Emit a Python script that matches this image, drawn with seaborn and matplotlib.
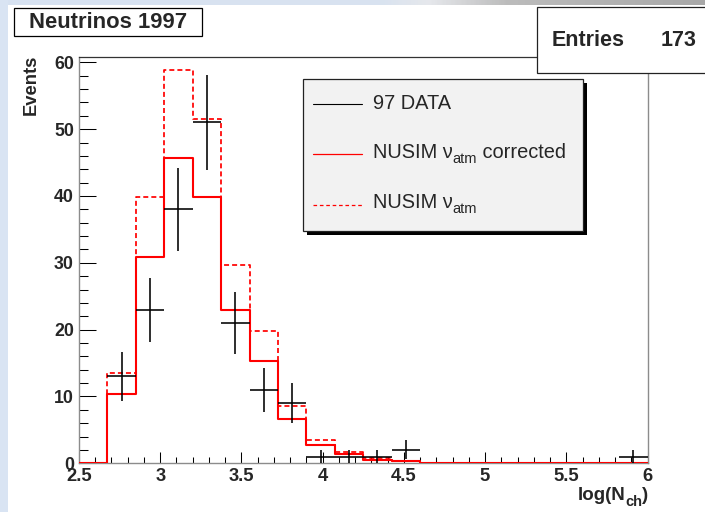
import numpy as np
import pandas as pd
import matplotlib
matplotlib.use("Agg")
import matplotlib.pyplot as plt
import matplotlib.transforms as mtransforms
from matplotlib.patches import Rectangle
from matplotlib.lines import Line2D
from matplotlib.ticker import MultipleLocator
from matplotlib.colors import LinearSegmentedColormap
import seaborn as sns

# ---- data ---------------------------------------------------------------
# 20 bins in log(Nch) between 2.5 and 6
bin_edges = np.linspace(2.5, 6.0, 21)

data_counts = [0, 13, 23, 38, 51, 21, 11, 9, 1, 1, 1, 2, 0, 0, 0, 0, 0, 0, 0, 1]
nusim_corrected = [0, 10.4, 30.9, 45.7, 39.9, 23.0, 15.3, 6.6, 2.75, 1.4,
                   0.55, 0.3, 0.1, 0, 0, 0, 0, 0, 0, 0]
nusim_raw = [0, 13.5, 39.8, 58.9, 51.5, 29.7, 19.8, 8.6, 3.5, 1.75,
             0.75, 0.4, 0.1, 0, 0, 0, 0, 0, 0, 0]

n_entries = 173
title_text = "Neutrinos 1997"
# legend rows: (text, subscript, trailing text)
legend_rows = [("97 DATA", "", ""),
               ("NUSIM ν", "atm", " corrected"),
               ("NUSIM ν", "atm", "")]
xlabel_parts = ("log(N", "ch", ")")
ylabel_text = "Events"
xtick_values = [2.5, 3, 3.5, 4, 4.5, 5, 5.5, 6]
xtick_labels = ["2.5", "3", "3.5", "4", "4.5", "5", "5.5", "6"]
ytick_values = [0, 10, 20, 30, 40, 50, 60]
ytick_labels = ["0", "10", "20", "30", "40", "50", "60"]

centers = 0.5 * (bin_edges[:-1] + bin_edges[1:])
half_width = 0.5 * (bin_edges[1] - bin_edges[0])
df = pd.DataFrame({"lognch": centers, "data": data_counts,
                   "corrected": nusim_corrected, "raw": nusim_raw})

# ---- style --------------------------------------------------------------
sns.set_style("white")
plt.rcParams["font.family"] = ["Liberation Sans", "DejaVu Sans"]
plt.rcParams["lines.scale_dashes"] = False

W, H = 705, 512
fig = plt.figure(figsize=(W / 100, H / 100), dpi=100)
fig.patch.set_facecolor("white")
renderer = fig.canvas.get_renderer()
# pixel coordinates measured from the top-left corner
px = mtransforms.Affine2D().scale(1 / W, -1 / H).translate(0, 1) + fig.transFigure


def sub_text(x, y, parts, size, sub_size, sub_drop, weight="normal",
             align="left", z=7):
    """Write main text, a lowered subscript and trailing text in one run."""
    main, sub, tail = parts
    pieces = [(main, size, 0), (sub, sub_size, sub_drop), (tail, size, 0)]
    texts = []
    for s, fs, dy in pieces:
        if not s:
            continue
        t = fig.text(0, y + dy, s, transform=px, ha="left", va="baseline",
                     fontsize=fs, fontweight=weight, zorder=z)
        texts.append(t)
    widths = [t.get_window_extent(renderer=renderer).width for t in texts]
    if align == "right":
        x -= sum(widths)
    for t, w in zip(texts, widths):
        t.set_x(x)
        x += w


# slide background around the canvas
bg = fig.add_axes([0, 1 - 5 / H, 1, 5 / H], zorder=-2)
grad = LinearSegmentedColormap.from_list(
    "band", [(0.0, "#d7e2f2"), (0.54, "#d9e3f0"), (0.61, "#e6e8ec"),
             (0.72, "#bcbcbc"), (1.0, "#a8a8a8")])
bg.imshow(np.linspace(0, 1, 400)[None, :], aspect="auto", cmap=grad,
          extent=[0, 1, 0, 1])
bg.set_axis_off()
fig.add_artist(Rectangle((0, 0), 7.5, H, transform=px, facecolor="#d9e4f3",
                         edgecolor="none", zorder=-1))

# ---- main axes ----------------------------------------------------------
x0, x1, ytop, ybot = 79, 647.5, 57, 463.3
ax = fig.add_axes([x0 / W, (H - ybot) / H, (x1 - x0) / W, (ybot - ytop) / H])
ax.set_facecolor("white")

hist_bins = list(bin_edges)
sns.histplot(data=df, x="lognch", weights="raw", bins=hist_bins,
             element="step", fill=False, color="#ff0000", linewidth=1.25,
             linestyle=(0, (3.6, 2.2)), ax=ax, zorder=3)
sns.histplot(data=df, x="lognch", weights="corrected", bins=hist_bins,
             element="step", fill=False, color="#ff0000", linewidth=1.5,
             ax=ax, zorder=3.5)

pts = df[df["data"] > 0]
ax.errorbar(pts["lognch"], pts["data"], xerr=half_width,
            yerr=np.sqrt(pts["data"]), fmt="none", ecolor="black",
            elinewidth=1.15, capsize=0, zorder=4)

ax.set_xlim(2.5, 6.0)
ax.set_ylim(0, 60.8)
ax.set_xlabel("")
ax.set_ylabel("")
ax.set_xticks(xtick_values, labels=xtick_labels)
ax.set_yticks(ytick_values, labels=ytick_labels)
ax.xaxis.set_minor_locator(MultipleLocator(0.1))
ax.yaxis.set_minor_locator(MultipleLocator(2))
ax.tick_params(axis="x", which="major", direction="in", length=7.9, width=0.75,
               color="black", pad=3.2, labelsize=13.2, top=False, bottom=True)
ax.tick_params(axis="x", which="minor", direction="in", length=4.3, width=0.75,
               color="black", top=False, bottom=True)
ax.tick_params(axis="y", which="major", direction="in", length=12.2, width=0.75,
               color="black", pad=3.6, labelsize=12.8, left=True, right=False)
ax.tick_params(axis="y", which="minor", direction="in", length=6.5, width=0.75,
               color="black", left=True, right=False)
for lab in ax.get_xticklabels() + ax.get_yticklabels():
    lab.set_fontweight("bold")

for side in ("left", "right", "bottom"):
    ax.spines[side].set_color("#8c8c8c")
    ax.spines[side].set_linewidth(1.0)
ax.spines["top"].set_color("#333333")
ax.spines["top"].set_linewidth(0.9)

# axis titles
sub_text(648.5, 499.5, xlabel_parts, size=13.5, sub_size=10.5, sub_drop=6,
         weight="bold", align="right")
fig.text(31, 55, ylabel_text, transform=px, rotation=90, ha="center", va="top",
         fontsize=13.2, fontweight="bold")

# ---- title and statistics boxes ------------------------------------------
fig.add_artist(Rectangle((14, 8.3), 187.7, 27.4, transform=px,
                         facecolor="white", edgecolor="black", lw=0.9, zorder=5))
fig.text(107.8, 27.5, title_text, transform=px, ha="center", va="baseline",
         fontsize=15.8, fontweight="bold", zorder=6)

fig.add_artist(Rectangle((537, 6.7), 172, 66, transform=px,
                         facecolor="white", edgecolor="#222222", lw=0.9, zorder=5))
fig.text(625, 45.7, "Entries", transform=px, ha="right", va="baseline",
         fontsize=15.5, fontweight="bold", zorder=6)
fig.text(696.7, 45.7, f"{n_entries}", transform=px, ha="right",
         va="baseline", fontsize=15.5, fontweight="bold", zorder=6)

# ---- legend -------------------------------------------------------------
lx, ly, lw_, lh = 303.3, 79.3, 279.4, 151.7
fig.add_artist(Rectangle((lx + 4, ly + 4), lw_, lh, transform=px,
                         facecolor="black", edgecolor="none", zorder=5))
fig.add_artist(Rectangle((lx, ly), lw_, lh, transform=px, facecolor="#f2f2f2",
                         edgecolor="#222222", lw=0.9, zorder=6))
legend_styles = [dict(color="black", lw=0.8, ls="-"),
                 dict(color="#ff0000", lw=0.9, ls="-"),
                 dict(color="#ff0000", lw=0.9, ls=(0, (2.6, 2.0)))]
row_line_y = [104.3, 154.3, 205.0]
row_text_y = [109.3, 158.3, 208.3]
for parts, sty, yl, yt in zip(legend_rows, legend_styles, row_line_y, row_text_y):
    fig.add_artist(Line2D([312.7, 361.7], [yl, yl], transform=px, zorder=7, **sty))
    sub_text(372.7, yt, parts, size=14.4, sub_size=10.5, sub_drop=5)

fig.savefig("out.png", dpi=100, facecolor=fig.get_facecolor())
